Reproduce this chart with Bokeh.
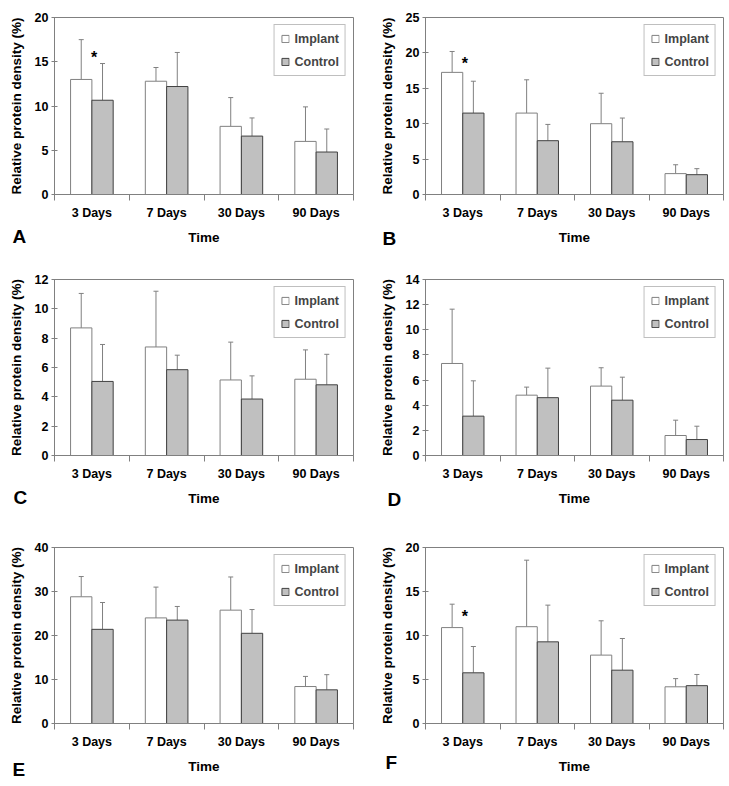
from bokeh.plotting import figure
from bokeh.models import (ColumnDataSource, Range1d, FixedTicker, Whisker, TeeHead,
                          Legend, LegendItem, Title)
from bokeh.layouts import column, row
from bokeh.transform import dodge
from bokeh.core.properties import value
from bokeh.embed import file_html
from bokeh.resources import INLINE

FONT = "Liberation Sans"

days = ["3 Days", "7 Days", "30 Days", "90 Days"]
series = ["Implant", "Control"]

# Panel A
A_implant = [13.0, 12.8, 7.7, 6.0]
A_implant_sd = [4.5, 1.55, 3.25, 3.9]
A_control = [10.65, 12.2, 6.6, 4.8]
A_control_sd = [4.15, 3.85, 2.05, 2.6]
A_yticks = [0, 5, 10, 15, 20]
A_star = ["3 Days"]
A_star_y = [15.9]

# Panel B
B_implant = [17.25, 11.5, 10.0, 2.95]
B_implant_sd = [2.95, 4.7, 4.3, 1.25]
B_control = [11.5, 7.6, 7.45, 2.8]
B_control_sd = [4.5, 2.3, 3.35, 0.85]
B_yticks = [0, 5, 10, 15, 20, 25]
B_star = ["3 Days"]
B_star_y = [19.1]

# Panel C
C_implant = [8.7, 7.4, 5.15, 5.2]
C_implant_sd = [2.35, 3.8, 2.58, 2.0]
C_control = [5.05, 5.85, 3.85, 4.82]
C_control_sd = [2.52, 0.99, 1.58, 2.08]
C_yticks = [0, 2, 4, 6, 8, 10, 12]
C_star = []
C_star_y = []

# Panel D
D_implant = [7.32, 4.8, 5.52, 1.59]
D_implant_sd = [4.32, 0.64, 1.46, 1.22]
D_control = [3.13, 4.6, 4.4, 1.27]
D_control_sd = [2.81, 2.35, 1.83, 1.06]
D_yticks = [0, 2, 4, 6, 8, 10, 12, 14]
D_star = []
D_star_y = []

# Panel E
E_implant = [28.8, 24.0, 25.76, 8.4]
E_implant_sd = [4.6, 7.0, 7.54, 2.3]
E_control = [21.4, 23.5, 20.5, 7.65]
E_control_sd = [6.1, 3.1, 5.4, 3.45]
E_yticks = [0, 10, 20, 30, 40]
E_star = []
E_star_y = []

# Panel F
F_implant = [10.9, 11.0, 7.77, 4.17]
F_implant_sd = [2.66, 7.56, 3.9, 0.93]
F_control = [5.76, 9.28, 6.06, 4.3]
F_control_sd = [2.99, 4.17, 3.6, 1.27]
F_yticks = [0, 5, 10, 15, 20]
F_star = ["3 Days"]
F_star_y = [12.6]

GRAY = "#808080"
DARK = "#404040"
CTRL_FILL = "#c0c0c0"
BW = 0.285


def panel(letter, imp, imp_sd, ctl, ctl_sd, yticks, star, star_y,
          w, h, bl, br, bt, bb, letter_dx, letter_standoff):
    xs = [i + 0.5 for i in range(len(days))]
    src = ColumnDataSource(dict(
        x=xs, imp=imp, imp_up=[m + s for m, s in zip(imp, imp_sd)],
        ctl=ctl, ctl_up=[m + s for m, s in zip(ctl, ctl_sd)]))
    ymin, ymax = yticks[0], yticks[-1]
    p = figure(width=w, height=h, x_range=Range1d(0, len(days)),
               y_range=Range1d(ymin, ymax),
               output_backend="svg", toolbar_location=None,
               min_border_left=bl, min_border_right=br,
               min_border_top=bt, min_border_bottom=bb,
               outline_line_color=GRAY, outline_line_width=1,
               background_fill_color="white", border_fill_color="white")
    p.xgrid.visible = False
    p.ygrid.visible = False

    r_imp = p.vbar(x=dodge("x", -BW / 2), top="imp", width=BW, source=src,
                   fill_color="white", line_color=GRAY, line_width=1)
    r_ctl = p.vbar(x=dodge("x", BW / 2), top="ctl", width=BW, source=src,
                   fill_color=CTRL_FILL, line_color=DARK, line_width=1)

    for off, lo, up in [(-BW / 2, "imp", "imp_up"), (BW / 2, "ctl", "ctl_up")]:
        wk = Whisker(source=src, base=dodge("x", off), lower=lo, upper=up,
                     line_color=GRAY, line_width=1, lower_head=None,
                     upper_head=TeeHead(size=5, line_color=GRAY, line_width=1))
        p.add_layout(wk)

    if star:
        ssrc = ColumnDataSource(dict(
            x=[days.index(c) + 0.5 for c in star], y=star_y, t=["*"] * len(star)))
        p.text(x=dodge("x", 0.03), y="y", text="t", source=ssrc,
               text_font=value(FONT), text_font_style="bold",
               text_font_size="16px", text_align="center",
               text_baseline="alphabetic", y_offset=4, text_color="black")

    # y axis
    ya = p.yaxis[0]
    ya.ticker = FixedTicker(ticks=yticks)
    ya.axis_line_color = GRAY
    ya.major_tick_line_color = GRAY
    ya.major_tick_in = 3
    ya.major_tick_out = 3
    ya.minor_tick_line_color = None
    ya.major_label_standoff = 3
    ya.major_label_text_font = FONT
    ya.major_label_text_font_style = "bold"
    ya.major_label_text_font_size = "12.5px"
    ya.major_label_text_color = "black"
    ya.axis_label = "Relative protein density (%)"
    ya.axis_label_text_font = FONT
    ya.axis_label_text_font_style = "bold"
    ya.axis_label_text_font_size = "13.5px"
    ya.axis_label_text_color = "black"
    ya.axis_label_standoff = 8

    # x axis: labels at category centres, ticks at category boundaries
    xa = p.xaxis[0]
    xa.ticker = FixedTicker(ticks=xs, minor_ticks=list(range(len(days) + 1)))
    xa.major_label_overrides = {x: d for x, d in zip(xs, days)}
    xa.axis_line_color = GRAY
    xa.major_tick_in = 0
    xa.major_tick_out = 0
    xa.major_tick_line_color = None
    xa.minor_tick_in = 0
    xa.minor_tick_out = 6
    xa.minor_tick_line_color = GRAY
    xa.major_label_standoff = 5
    xa.major_label_text_font = FONT
    xa.major_label_text_font_style = "bold"
    xa.major_label_text_font_size = "12.5px"
    xa.major_label_text_color = "black"
    xa.axis_label = "Time"
    xa.axis_label_text_font = FONT
    xa.axis_label_text_font_style = "bold"
    xa.axis_label_text_font_size = "13.5px"
    xa.axis_label_text_color = "black"
    xa.axis_label_standoff = 7

    legend = Legend(items=[LegendItem(label=series[0], renderers=[r_imp]),
                           LegendItem(label=series[1], renderers=[r_ctl])],
                    location="top_right", margin=7, padding=6, spacing=8,
                    label_height=15, glyph_width=9, glyph_height=9,
                    label_standoff=5, border_line_color=GRAY,
                    border_line_width=1, background_fill_alpha=1,
                    label_text_font=FONT, label_text_font_style="bold",
                    label_text_font_size="12.5px")
    p.add_layout(legend)

    # panel letter, as a title in the bottom panel, pulled up beside "Time"
    p.add_layout(Title(text=letter, align="left", offset=letter_dx,
                       vertical_align="top", standoff=letter_standoff,
                       text_font=FONT, text_font_style="bold",
                       text_font_size="19px", text_color="black"), "below")
    return p


W1, W2 = 364, 364
H1, H2, H3 = 262, 262, 261
pA = panel("A", A_implant, A_implant_sd, A_control, A_control_sd, A_yticks, A_star, A_star_y,
           W1, H1, 54, 11, 16, 68, -42, -43)
pB = panel("B", B_implant, B_implant_sd, B_control, B_control_sd, B_yticks, B_star, B_star_y,
           W2, H1, 61, 5, 17, 68, -43, -39)
pC = panel("C", C_implant, C_implant_sd, C_control, C_control_sd, C_yticks, C_star, C_star_y,
           W1, H2, 54, 11, 16, 69, -41, -43)
pD = panel("D", D_implant, D_implant_sd, D_control, D_control_sd, D_yticks, D_star, D_star_y,
           W2, H2, 61, 5, 17, 69, -38, -39)
pE = panel("E", E_implant, E_implant_sd, E_control, E_control_sd, E_yticks, E_star, E_star_y,
           W1, H3, 54, 11, 23, 62, -42, -35)
pF = panel("F", F_implant, F_implant_sd, F_control, F_control_sd, F_yticks, F_star, F_star_y,
           W2, H3, 61, 5, 23, 62, -40, -49)

layout = column(row(pA, pB), row(pC, pD), row(pE, pF))

with open("out.html", "w") as f:
    f.write(file_html(layout, INLINE))
